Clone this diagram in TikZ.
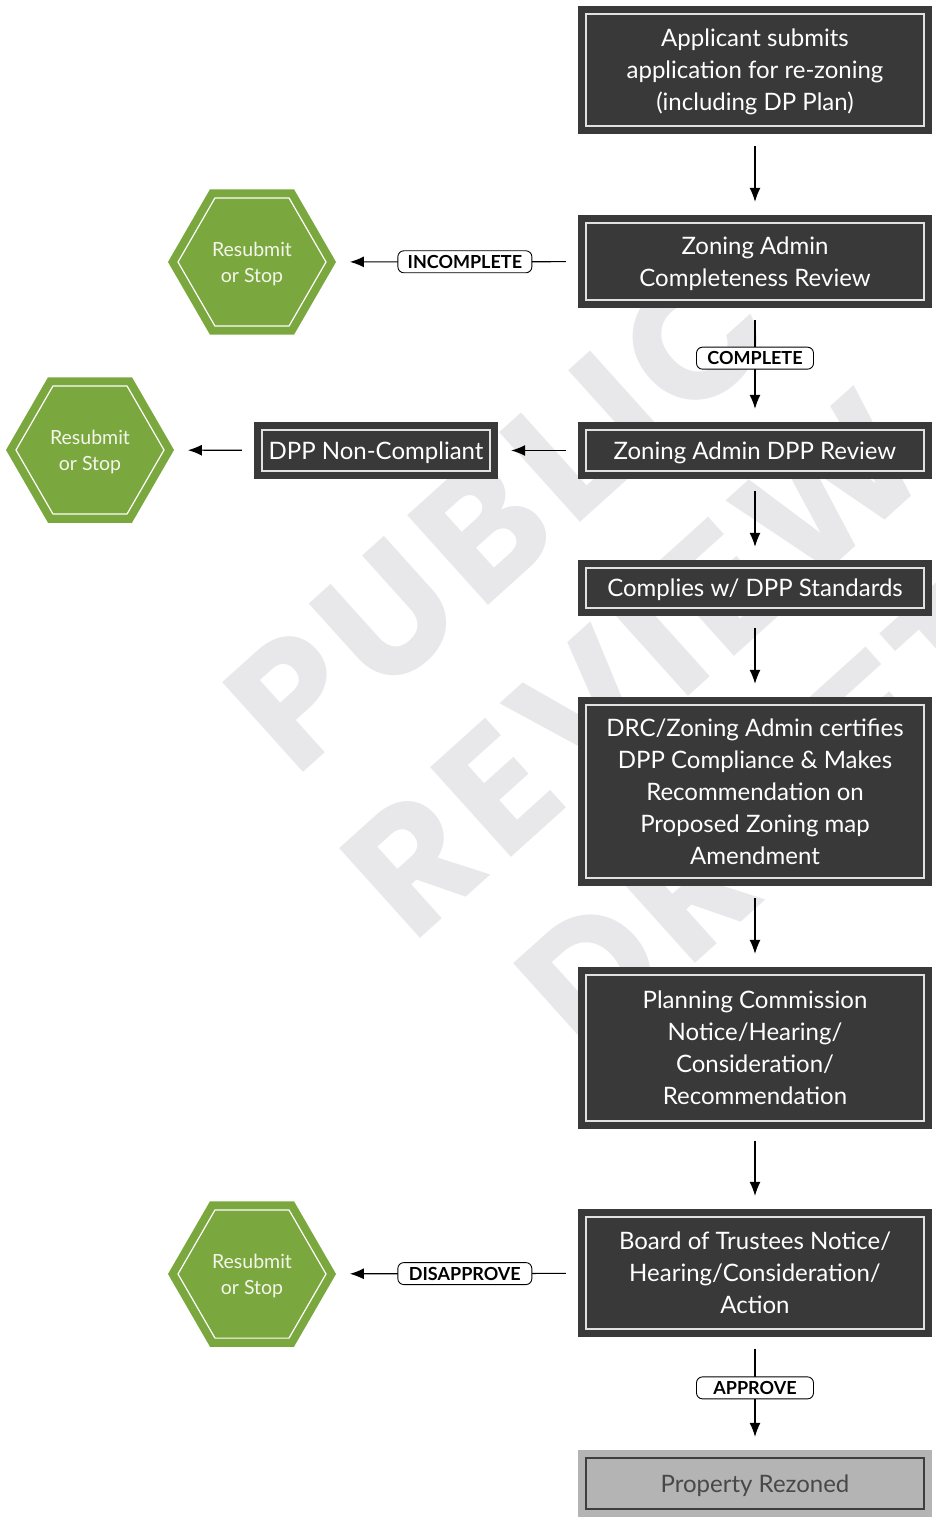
\documentclass[tikz,border=0pt]{standalone}
\usepackage{fontspec}
\setmainfont{Lato}
\newfontfamily\wmfont{Poppins}[LetterSpace=6]
\usetikzlibrary{shapes.geometric,arrows.meta,calc}

\definecolor{boxdark}{RGB}{57,57,57}
\definecolor{boxline}{RGB}{225,225,225}
\definecolor{hexgreen}{RGB}{122,168,62}
\definecolor{hextext}{RGB}{244,246,236}
\definecolor{wmgray}{RGB}{232,232,235}
\definecolor{donefill}{RGB}{180,180,180}
\definecolor{doneline}{RGB}{62,62,62}
\definecolor{donetext}{RGB}{72,72,72}

\begin{document}
\begin{tikzpicture}[x=1pt,y=-1pt,
  stepbox/.style={fill=boxdark, text=white, minimum width=354pt, inner sep=0pt,
    align=center, text depth=0pt, font=\fontsize{24}{32}\selectfont,
    path picture={\draw[boxline, line width=1.3pt]
      ([shift={(8pt,-8pt)}]path picture bounding box.north west) rectangle
      ([shift={(-8pt,8pt)}]path picture bounding box.south east);}},
  donebox/.style={stepbox, fill=donefill, text=donetext,
    path picture={\draw[doneline, line width=1.4pt]
      ([shift={(8pt,-8pt)}]path picture bounding box.north west) rectangle
      ([shift={(-8pt,8pt)}]path picture bounding box.south east);}},
  hexstop/.style={regular polygon, regular polygon sides=6, minimum size=168pt,
    inner sep=0pt, outer sep=0pt, fill=hexgreen, text=hextext, align=center,
    text depth=0pt, font=\fontsize{19.5}{26}\selectfont},
  pill/.style={draw=black, line width=0.9pt, fill=white, rounded corners=6pt,
    minimum width=134pt, minimum height=22pt, inner sep=0pt, text=black,
    text depth=0pt, font=\bfseries\fontsize{18}{18}\selectfont},
  arr/.style={draw=black, line width=1.1pt, -{Latex[length=14pt,width=11pt]},
    shorten <=12pt, shorten >=13pt},
  wm/.style={text=wmgray, align=center, rotate=42,
    font=\wmfont\bfseries\fontsize{172}{202}\selectfont}
]
\useasboundingbox (0,0) rectangle (935,1522);
\fill[white] (0,0) rectangle (935,1522);

% background watermark
\begin{scope}
  \clip (0,0) rectangle (935,1522);
  \node[wm] (mark) at (634,664) {PUBLIC\\REVIEW\\DRAFT};
\end{scope}

% main column of steps
\node[stepbox, minimum height=128pt] (apply) at (755,70)
  {Applicant submits\\application for re-zoning\\(including DP Plan)};
\node[stepbox, minimum height=93pt] (complete) at (755,261.5)
  {Zoning Admin\\Completeness Review};
\node[stepbox, minimum height=57pt] (dppreview) at (755,450.5)
  {Zoning Admin DPP Review};
\node[stepbox, minimum width=244pt, minimum height=57pt] (noncomp) at (376,450.5)
  {DPP Non-Compliant};
\node[stepbox, minimum height=56pt] (complies) at (755,588)
  {Complies w/ DPP Standards};
\node[stepbox, minimum height=189pt] (drc) at (755,791.5)
  {DRC/Zoning Admin certifies\\DPP Compliance \& Makes\\Recommendation on\\Proposed Zoning map\\Amendment};
\node[stepbox, minimum height=162pt] (planning) at (755,1048)
  {Planning Commission\\Notice/Hearing/\\Consideration/\\Recommendation};
\node[stepbox, minimum height=128pt] (board) at (755,1273)
  {Board of Trustees Notice/\\Hearing/Consideration/\\Action};
\node[donebox, minimum height=67pt] (rezoned) at (755,1483.5)
  {Property Rezoned};

% resubmit-or-stop hexagons
\node[hexstop] (stopA) at (252,262) {Resubmit\\or Stop};
\node[hexstop] (stopB) at (90,450) {Resubmit\\or Stop};
\node[hexstop] (stopC) at (252,1274) {Resubmit\\or Stop};
\foreach \h in {stopA,stopB,stopC}{
  \draw[white, line width=1.2pt]
    ($(\h)+(0:74pt)$) -- ($(\h)+(60:74pt)$) -- ($(\h)+(120:74pt)$) --
    ($(\h)+(180:74pt)$) -- ($(\h)+(240:74pt)$) -- ($(\h)+(300:74pt)$) -- cycle;
}

% connectors
\draw[arr] (apply) -- (complete);
\draw[arr] (complete) -- node[pill, minimum width=117pt, pos=0.44] (lblcomplete) {COMPLETE} (dppreview);
\draw[arr] (dppreview) -- (complies);
\draw[arr] (complies) -- (drc);
\draw[arr] (drc) -- (planning);
\draw[arr] (planning) -- (board);
\draw[arr] (board) -- node[pill, minimum width=117pt, pos=0.45] (lblapprove) {APPROVE} (rezoned);
\draw[arr, shorten >=14pt] (complete) -- node[pill, pos=0.467] (lblincomplete) {INCOMPLETE} (stopA);
\draw[arr] (dppreview) -- (noncomp);
\draw[arr, shorten >=14pt] (noncomp) -- (stopB);
\draw[arr, shorten >=14pt] (board) -- node[pill, pos=0.467] (lbldisapprove) {DISAPPROVE} (stopC);
\end{tikzpicture}
\end{document}
